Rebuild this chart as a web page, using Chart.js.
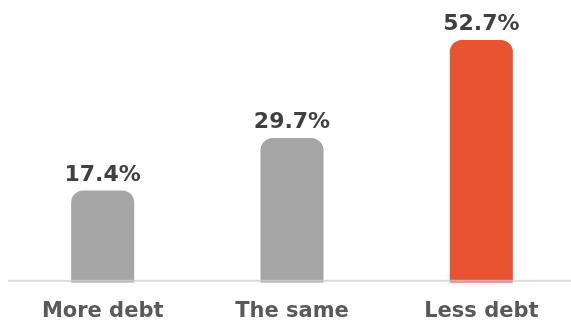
<!DOCTYPE html>
<html>
<head>
<meta charset="utf-8">
<script src="https://cdn.jsdelivr.net/npm/chart.js@4/dist/chart.umd.min.js"></script>
<style>
  html, body { margin: 0; padding: 0; background: #ffffff; overflow: hidden; }
  #wrap { width: 576px; height: 322px; position: relative; }
</style>
</head>
<body>
<div id="wrap"><canvas id="chart"></canvas></div>
<script>
// Survey answers: expected change in debt
const categories = ['More debt', 'The same', 'Less debt'];
const shares = [17.4, 29.7, 52.7];
const barColors = ['#a6a6a6', '#a6a6a6', '#e8532f'];

// Value range of the vertical axis (bars start slightly below zero)
const axisFloor = -4.24;
const axisCeiling = 62.1;

const FONT = '"DejaVu Sans", Verdana, sans-serif';

// Percent labels above each bar
const valueLabels = {
  id: 'valueLabels',
  afterDatasetsDraw(chart) {
    const ctx = chart.ctx;
    const meta = chart.getDatasetMeta(0);
    ctx.save();
    ctx.font = 'bold 22px ' + FONT;
    ctx.fillStyle = '#404040';
    ctx.textAlign = 'center';
    ctx.textBaseline = 'alphabetic';
    meta.data.forEach((bar, i) => {
      ctx.fillText(shares[i].toFixed(1) + '%', bar.x, bar.y - 10);
    });
    ctx.restore();
  }
};

// Thin light rule along the foot of the bars
const baseRule = {
  id: 'baseRule',
  afterDatasetsDraw(chart) {
    const ctx = chart.ctx;
    const y = chart.chartArea.bottom - 2;
    ctx.save();
    ctx.fillStyle = 'rgba(205,205,205,0.75)';
    ctx.fillRect(8, y - 1, chart.width - 8, 2);
    ctx.restore();
  }
};

new Chart(document.getElementById('chart'), {
  type: 'bar',
  data: {
    labels: categories,
    datasets: [{
      data: shares,
      base: axisFloor,
      backgroundColor: barColors,
      borderWidth: 0,
      borderRadius: { topLeft: 12, topRight: 12, bottomLeft: 0, bottomRight: 0 },
      borderSkipped: 'start',
      barPercentage: 0.333,
      categoryPercentage: 1.0
    }]
  },
  options: {
    responsive: true,
    maintainAspectRatio: false,
    animation: false,
    layout: { padding: { left: 8, right: 0, top: 0, bottom: -18 } },
    plugins: {
      legend: { display: false },
      tooltip: { enabled: false }
    },
    scales: {
      x: {
        grid: { display: false, drawTicks: false },
        border: { display: false },
        ticks: {
          color: '#595959',
          padding: 16,
          font: { family: FONT, size: 21, weight: 'bold', lineHeight: 1.2 }
        }
      },
      y: {
        display: false,
        min: axisFloor,
        max: axisCeiling
      }
    }
  },
  plugins: [valueLabels, baseRule]
});
</script>
</body>
</html>
